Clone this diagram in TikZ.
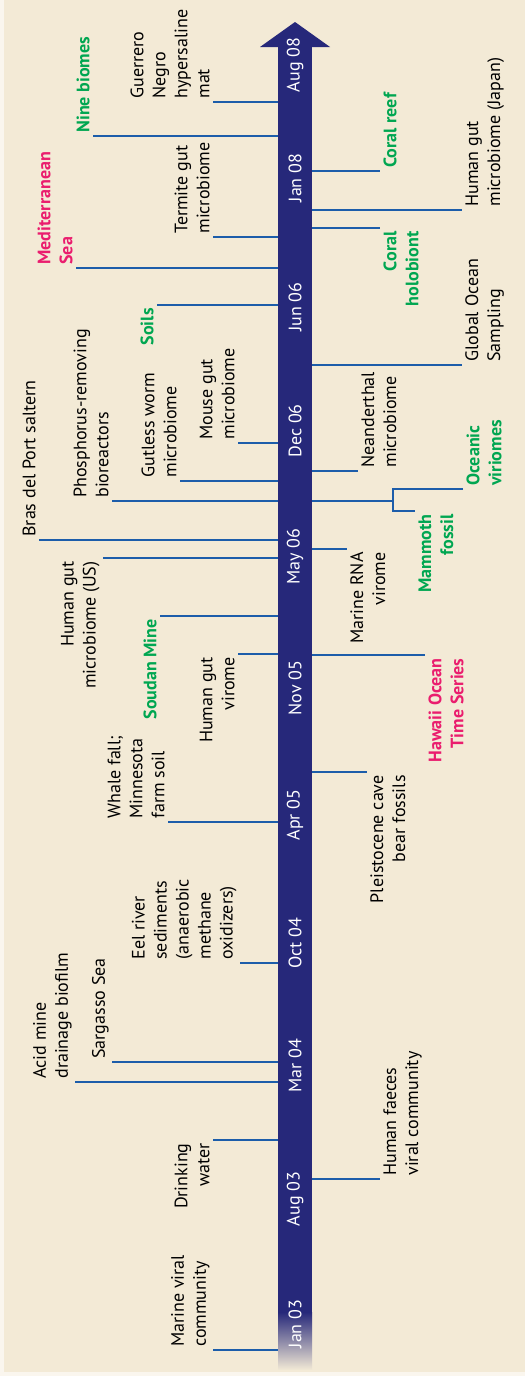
\documentclass[tikz,border=0pt]{standalone}
\usepackage{fontspec}
\setmainfont{PT Sans}
\definecolor{bgcol}{HTML}{F3EAD6}
\definecolor{rimcol}{HTML}{FAF6EE}
\definecolor{barcol}{HTML}{26287A}
\definecolor{barlow}{HTML}{2A4BA6}
\definecolor{linecol}{HTML}{1C5DAA}
\definecolor{evgreen}{HTML}{00A651}
\definecolor{evpink}{HTML}{EA1D6E}
\tikzset{
  lab/.style={rotate=90, inner sep=1.5pt, font=\fontsize{9}{11}\selectfont},
  lstart/.style={lab, anchor=south west, align=left},
  lend/.style={lab, anchor=south east, align=right},
  rstart/.style={lab, anchor=north west, align=left},
  rend/.style={lab, anchor=north east, align=right},
  grn/.style={text=evgreen, font=\fontsize{9}{11}\selectfont\bfseries},
  pnk/.style={text=evpink, font=\fontsize{9}{11}\selectfont\bfseries},
  evline/.style={draw=linecol, line width=1pt},
  datel/.style={rotate=90, text=white, inner sep=0pt, font=\fontsize{9}{11}\selectfont},
}
\begin{document}
\begin{tikzpicture}[x=0.5pt, y=-0.5pt]
  \useasboundingbox (0,0) rectangle (525,1376);
  \fill[rimcol] (0,0) rectangle (525,1376);
  \fill[bgcol] (4,0) rectangle (525,1372);
  % timeline arrow
  \coordinate (barL) at (278,0);
  \coordinate (barR) at (312,0);
  \fill[barcol] (278,47) rectangle (312,1312);
  \fill[barcol] (260,47) -- (295,22) -- (330,47) -- cycle;
  \shade[top color=barcol, middle color=barlow, bottom color=bgcol] (278,1312) rectangle (312,1370);
  % dates
  \node[datel] (jan03) at (295,1324) {Jan 03};
  \node[datel] (aug03) at (295,1199) {Aug 03};
  \node[datel] (mar04) at (295,1066) {Mar 04};
  \node[datel] (oct04) at (295,943) {Oct 04};
  \node[datel] (apr05) at (295,815) {Apr 05};
  \node[datel] (nov05) at (295,688) {Nov 05};
  \node[datel] (may06) at (295,557) {May 06};
  \node[datel] (dec06) at (295,431) {Dec 06};
  \node[datel] (jun06) at (295,307) {Jun 06};
  \node[datel] (jan08) at (295,178) {Jan 08};
  \node[datel] (aug08) at (295,65) {Aug 08};
  % left side
  \node[lstart] (mvc) at (213,1350) {Marine viral\\community};
  \node[lend] (dw) at (213,1140) {Drinking\\water};
  \node[lstart] (amd) at (75,1082) {Acid mine\\drainage biofilm};
  \node[lstart] (sar) at (112,1062) {Sargasso Sea};
  \node[lstart] (eel) at (240,963) {Eel river\\sediments\\(anaerobic\\methane\\oxidizers)};
  \node[lstart] (wf) at (168,822) {Whale fall;\\Minnesota\\farm soil};
  \node[lend] (hgv) at (238,654) {Human gut\\virome};
  \node[lend, grn] (sou) at (160,616) {Soudan Mine};
  \node[lend] (hgus) at (103,558) {Human gut\\microbiome (US)};
  \node[lstart] (bras) at (39,540) {Bras del Port saltern};
  \node[lstart] (pho) at (112,501) {Phosphorus-removing\\bioreactors};
  \node[lstart] (gw) at (180,481) {Gutless worm\\microbiome};
  \node[lstart] (mg) at (238,443) {Mouse gut\\microbiome};
  \node[lend, grn] (soil) at (157,305) {Soils};
  \node[lstart, pnk] (med) at (76,268) {Mediterranean\\Sea};
  \node[lstart] (ter) at (213,237) {Termite gut\\microbiome};
  \node[lstart, grn] (nine) at (93,136) {Nine biomes};
  \node[lstart] (gn) at (213,102) {Guerrero\\Negro\\hypersaline\\mat};
  \draw[evline] (mvc.south west) -- (mvc.south west -| barL);
  \draw[evline] (dw.south east) -- (dw.south east -| barL);
  \draw[evline] (amd.south west) -- (amd.south west -| barL);
  \draw[evline] (sar.south west) -- (sar.south west -| barL);
  \draw[evline] (eel.south west) -- (eel.south west -| barL);
  \draw[evline] (wf.south west) -- (wf.south west -| barL);
  \draw[evline] (hgv.south east) -- (hgv.south east -| barL);
  \draw[evline] (sou.south east) -- (sou.south east -| barL);
  \draw[evline] (hgus.south east) -- (hgus.south east -| barL);
  \draw[evline] (bras.south west) -- (bras.south west -| barL);
  \draw[evline] (pho.south west) -- (pho.south west -| barL);
  \draw[evline] (gw.south west) -- (gw.south west -| barL);
  \draw[evline] (mg.south west) -- (mg.south west -| barL);
  \draw[evline] (soil.south east) -- (soil.south east -| barL);
  \draw[evline] (med.south west) -- (med.south west -| barL);
  \draw[evline] (ter.south west) -- (ter.south west -| barL);
  \draw[evline] (nine.south west) -- (nine.south west -| barL);
  \draw[evline] (gn.south west) -- (gn.south west -| barL);
  % right side
  \node[rstart] (hfv) at (380,1179) {Human faeces\\viral community};
  \node[rend] (pcb) at (367,772) {Pleistocene cave\\bear fossils};
  \node[rend, pnk] (hot) at (425,655) {Hawaii Ocean\\Time Series};
  \node[rend] (mrv) at (347,549) {Marine RNA\\virome};
  \node[rstart, grn] (ocv) at (463,489) {Oceanic\\viriomes};
  \node[rend, grn] (mam) at (415,511) {Mammoth\\fossil};
  \node[rstart] (nea) at (358,471) {Neanderthal\\microbiome};
  \node[rstart] (gos) at (462,365) {Global Ocean\\Sampling};
  \node[rend, grn] (coh) at (380,228) {Coral\\holobiont};
  \node[rstart] (hgj) at (462,210) {Human gut\\microbiome (Japan)};
  \node[rstart, grn] (cor) at (380,171) {Coral reef};
  \coordinate (fork) at (393,501);
  \draw[evline] (hfv.north west -| barR) -- (hfv.north west);
  \draw[evline] (pcb.north east -| barR) -- (pcb.north east);
  \draw[evline] (hot.north east -| barR) -- (hot.north east);
  \draw[evline] (mrv.north east -| barR) -- (mrv.north east);
  \draw[evline] (fork -| barR) -- (fork);
  \draw[evline] (ocv.north west) -| (fork) |- (mam.north east);
  \draw[evline] (nea.north west -| barR) -- (nea.north west);
  \draw[evline] (gos.north west -| barR) -- (gos.north west);
  \draw[evline] (coh.north east -| barR) -- (coh.north east);
  \draw[evline] (hgj.north west -| barR) -- (hgj.north west);
  \draw[evline] (cor.north west -| barR) -- (cor.north west);
\end{tikzpicture}
\end{document}
